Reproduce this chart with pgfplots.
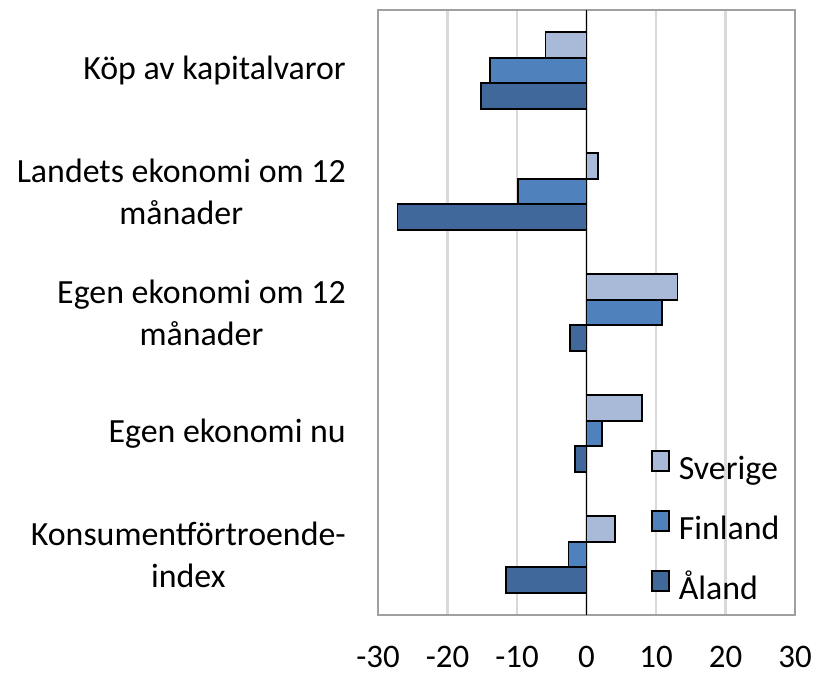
\documentclass[border=0pt]{standalone}
\usepackage{fontspec}
\setmainfont{Carlito}
\usepackage{pgfplots}
\pgfplotsset{compat=1.18}
\definecolor{sve}{RGB}{169,185,216}
\definecolor{fin}{RGB}{79,129,189}
\definecolor{ala}{RGB}{64,104,155}
\definecolor{gridc}{RGB}{217,217,217}
\definecolor{boxc}{RGB}{160,160,160}
\begin{document}
\fontsize{34}{42}\selectfont
\begin{tikzpicture}
\useasboundingbox (-378bp,-58bp) rectangle (440bp,615bp);
\begin{axis}[
 at={(0,0)}, anchor=south west,
 width=417bp, height=605bp, scale only axis,
 xbar=0pt, bar width=0.21,
 xmin=-30, xmax=30, ymin=-0.5, ymax=4.5, y dir=reverse,
 xtick={-30,-20,-10,0,10,20,30}, xticklabels={-30,-20,-10,0,10,20,30},
 ytick={0,1,2,3,4},
 yticklabels={Köp av kapitalvaror, {Landets ekonomi om 12\\månader}, {Egen ekonomi om 12\\månader}, Egen ekonomi nu, {Konsumentförtroende-\\index}},
 yticklabel style={align=center, inner sep=0pt, xshift=-32bp, font=\fontsize{34}{42}\selectfont},
 xticklabel style={inner sep=0pt, yshift=-31bp, font=\fontsize{33}{40}\selectfont},
 major tick length=0pt,
 xmajorgrids, grid style={gridc, line width=2.5bp},
 axis line style={boxc, line width=2bp},
 extra x ticks={0}, extra x tick labels={},
 extra x tick style={grid style={black, line width=1.8bp}},
 legend style={draw=none, fill=none, at={(0.6547,0.272)}, anchor=north west,
   inner sep=0pt, outer sep=0pt, row sep=23bp, column sep=9bp,
   nodes={inner sep=0pt, text height=24bp, text depth=8bp, font=\fontsize{34}{42}\selectfont}},
 legend cell align=left,
 legend image code/.code={\draw[#1, line width=1.8bp] (0bp,0bp) rectangle (17bp,20bp);},
]
\addplot[fill=sve, draw=black, line width=1.8bp] coordinates {(-5.9,0) (1.6,1) (13.1,2) (8.0,3) (4.1,4)};
\addplot[fill=fin, draw=black, line width=1.8bp] coordinates {(-13.9,0) (-9.9,1) (10.9,2) (2.2,3) (-2.6,4)};
\addplot[fill=ala, draw=black, line width=1.8bp] coordinates {(-15.2,0) (-27.2,1) (-2.35,2) (-1.6,3) (-11.6,4)};
\legend{Sverige, Finland, Åland}
\end{axis}
\end{tikzpicture}
\end{document}
